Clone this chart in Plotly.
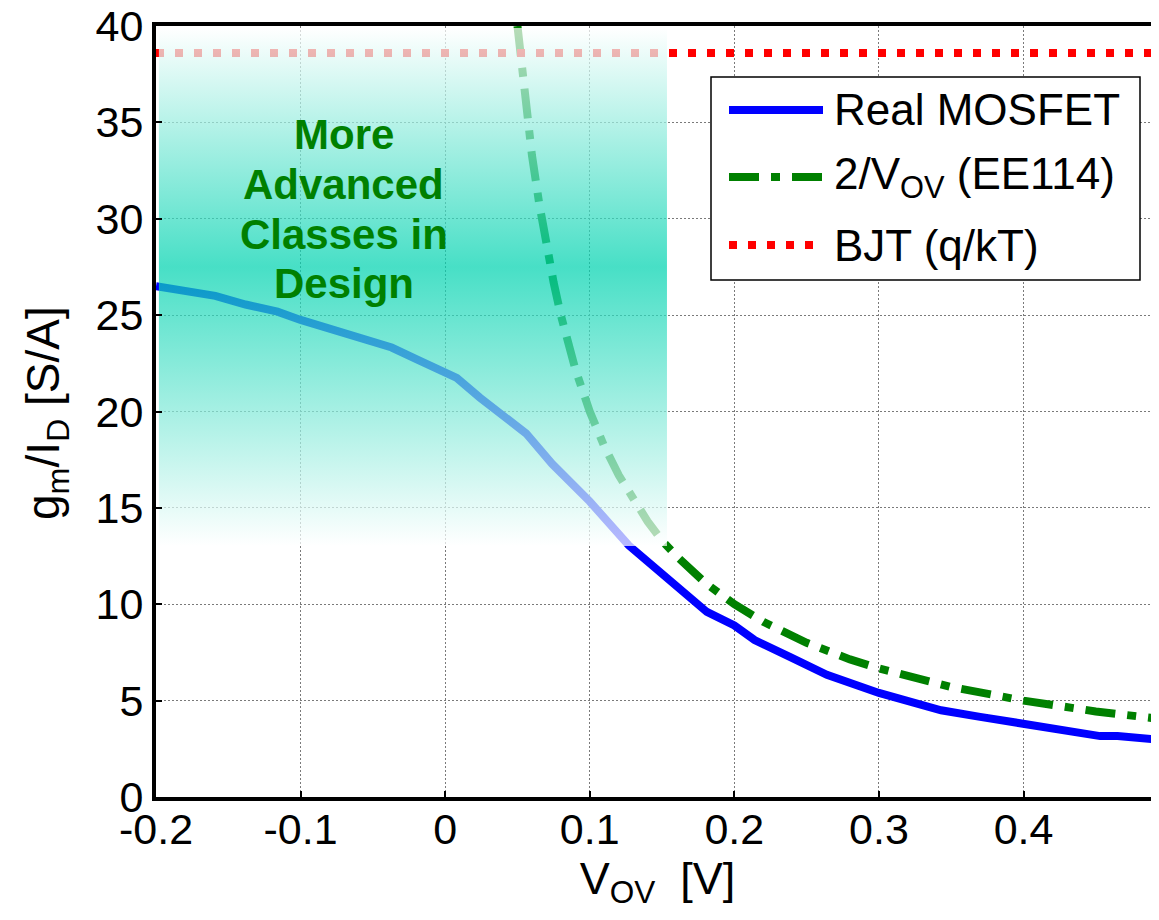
import plotly.graph_objects as go

# ---- data ----
mosfet_x = [-0.2, -0.159, -0.138, -0.116, -0.1, -0.079, -0.058, -0.037, -0.0185, 0.0,
            0.008, 0.024, 0.034, 0.045, 0.056, 0.074, 0.1, 0.127, 0.153, 0.181,
            0.2, 0.214, 0.238, 0.264, 0.3, 0.324, 0.343, 0.37, 0.4, 0.423,
            0.453, 0.465, 0.485, 0.495]
mosfet_y = [26.5, 26.0, 25.55, 25.18, 24.75, 24.25, 23.79, 23.32, 22.67, 22.02,
            21.74, 20.72, 20.16, 19.42, 18.86, 17.28, 15.33, 13.05, 11.4, 9.6,
            8.9, 8.14, 7.28, 6.34, 5.4, 4.88, 4.5, 4.16, 3.77, 3.47,
            3.16, 3.16, 2.96, 2.96]

ee114_x = [0.05, 0.055, 0.06, 0.065, 0.07, 0.075, 0.08, 0.09, 0.1, 0.11, 0.12, 0.13,
           0.14, 0.15, 0.16, 0.18, 0.2, 0.22, 0.25, 0.28, 0.3, 0.35, 0.4, 0.45, 0.5]
ee114_y = [40.0, 36.4, 33.3, 30.8, 28.6, 26.7, 25.0, 22.2, 20.0, 18.2, 16.7, 15.4,
           14.3, 13.3, 12.5, 11.1, 10.0, 9.09, 8.0, 7.14, 6.67, 5.71, 5.0, 4.44, 4.0]

bjt_x = [-0.2, 0.5]
bjt_y = [38.6, 38.6]

x_tickvals = [-0.2, -0.1, 0.0, 0.1, 0.2, 0.3, 0.4]
x_ticktext = ["-0.2", "-0.1", "0", "0.1", "0.2", "0.3", "0.4"]
y_tickvals = [0, 5, 10, 15, 20, 25, 30, 35, 40]
y_ticktext = ["0", "5", "10", "15", "20", "25", "30", "35", "40"]

legend_names = ["Real MOSFET", "2/V<sub>OV</sub> (EE114)", "BJT (q/kT)"]
region_lines = ["More", "Advanced", "Classes in", "Design"]
region_line_y = [34.35, 31.8, 29.2, 26.65]
region_text_x = -0.0703
x_title = "V<sub>OV</sub>  [V]"
y_title = "g<sub>m</sub>/I<sub>D</sub> [S/A]"

# shaded region extents (data units)
region_x = [-0.198, 0.1534]
region_y = [13.02, 39.9]
region_peak = 27.5

FONT = "Liberation Sans, Arial, sans-serif"
BLUE = "rgb(0,0,255)"
GREEN = "rgb(0,128,0)"
RED = "rgb(255,0,0)"
DASHDOT = "30px,12px,9px,12px"
DOTTED = "8px,11px"

fig = go.Figure()
fig.add_trace(go.Scatter(x=mosfet_x, y=mosfet_y, mode="lines",
                         line=dict(color=BLUE, width=8), showlegend=False,
                         hoverinfo="skip"))
fig.add_trace(go.Scatter(x=ee114_x, y=ee114_y, mode="lines",
                         line=dict(color=GREEN, width=8, dash=DASHDOT),
                         showlegend=False, hoverinfo="skip"))
fig.add_trace(go.Scatter(x=bjt_x, y=bjt_y, mode="lines",
                         line=dict(color=RED, width=8, dash=DOTTED),
                         showlegend=False, hoverinfo="skip"))

# translucent gradient overlay
rx0, rx1 = region_x
ry0, ry1 = region_y
peak = (region_peak - ry0) / (ry1 - ry0)
fig.add_trace(go.Scatter(
    x=[rx0, rx1, rx1, rx0, rx0], y=[ry0, ry0, ry1, ry1, ry0],
    mode="lines", line=dict(width=0), fill="toself",
    fillcolor="rgba(0,211,176,0.4)",
    fillgradient=dict(type="vertical", start=ry0, stop=ry1,
                      colorscale=[[0, "rgba(255,255,255,0.72)"],
                                  [peak, "rgba(0,211,176,0.72)"],
                                  [1, "rgba(255,255,255,0.72)"]]),
    showlegend=False, hoverinfo="skip"))

# page geometry (the page body adds an 8px offset)
OFF = 8
W, H = 1151, 912
L, R, T, B = 148, 0, 18, 123
pw, ph = W - L - R, H - T - B


def px(sx):
    return (sx - OFF - L) / pw


def py(sy):
    return (H - B - (sy - OFF)) / ph


shapes = []
annotations = []
# custom legend box
shapes.append(dict(type="rect", xref="paper", yref="paper",
                   x0=px(711), x1=px(1140), y0=py(280), y1=py(77),
                   fillcolor="white", line=dict(color="black", width=1.5),
                   layer="above"))
leg_styles = [dict(color=BLUE, width=8), dict(color=GREEN, width=8, dash=DASHDOT),
              dict(color=RED, width=8, dash=DOTTED)]
leg_rows = [110, 177, 245]
for name, st, row in zip(legend_names, leg_styles, leg_rows):
    shapes.append(dict(type="line", xref="paper", yref="paper",
                       x0=px(729), x1=px(823), y0=py(row), y1=py(row),
                       line=st, layer="above"))
    annotations.append(dict(xref="paper", yref="paper", x=px(832), y=py(row),
                            xanchor="left", yanchor="middle", text=name,
                            showarrow=False,
                            font=dict(family=FONT, size=44, color="black")))

for txt, ty in zip(region_lines, region_line_y):
    annotations.append(dict(x=region_text_x, y=ty, xref="x", yref="y", text=txt,
                            showarrow=False, xanchor="center", yanchor="middle",
                            font=dict(family=FONT, size=42, color=GREEN,
                                      weight="bold")))

# y-axis title
annotations.append(dict(xref="paper", yref="paper", x=px(46), y=py(413),
                        xanchor="center", yanchor="middle", textangle=-90,
                        text=y_title, showarrow=False,
                        font=dict(family=FONT, size=46, color="black")))

axis_common = dict(showline=True, linecolor="black", linewidth=4,
                   ticks="inside", ticklen=6, tickwidth=2, tickcolor="black",
                   showgrid=True, gridcolor="#7a7a7a", griddash="2px,2px",
                   gridwidth=1, zeroline=False, ticklabeloverflow="allow",
                   automargin=False,
                   tickfont=dict(family=FONT, size=43, color="black"))

fig.update_layout(
    width=W, height=H,
    margin=dict(l=L, r=R, t=T, b=B),
    paper_bgcolor="white", plot_bgcolor="white",
    showlegend=False,
    shapes=shapes, annotations=annotations,
    xaxis=dict(range=[-0.2, 0.4937], tickvals=x_tickvals, ticktext=x_ticktext,
               mirror=True, ticklabelstandoff=-9,
               title=dict(text=x_title, standoff=4,
                          font=dict(family=FONT, size=45, color="black")),
               **axis_common),
    yaxis=dict(range=[0, 40], tickvals=y_tickvals, ticktext=y_ticktext,
               mirror="ticks",
               **axis_common),
)

fig.write_html("out.html")
